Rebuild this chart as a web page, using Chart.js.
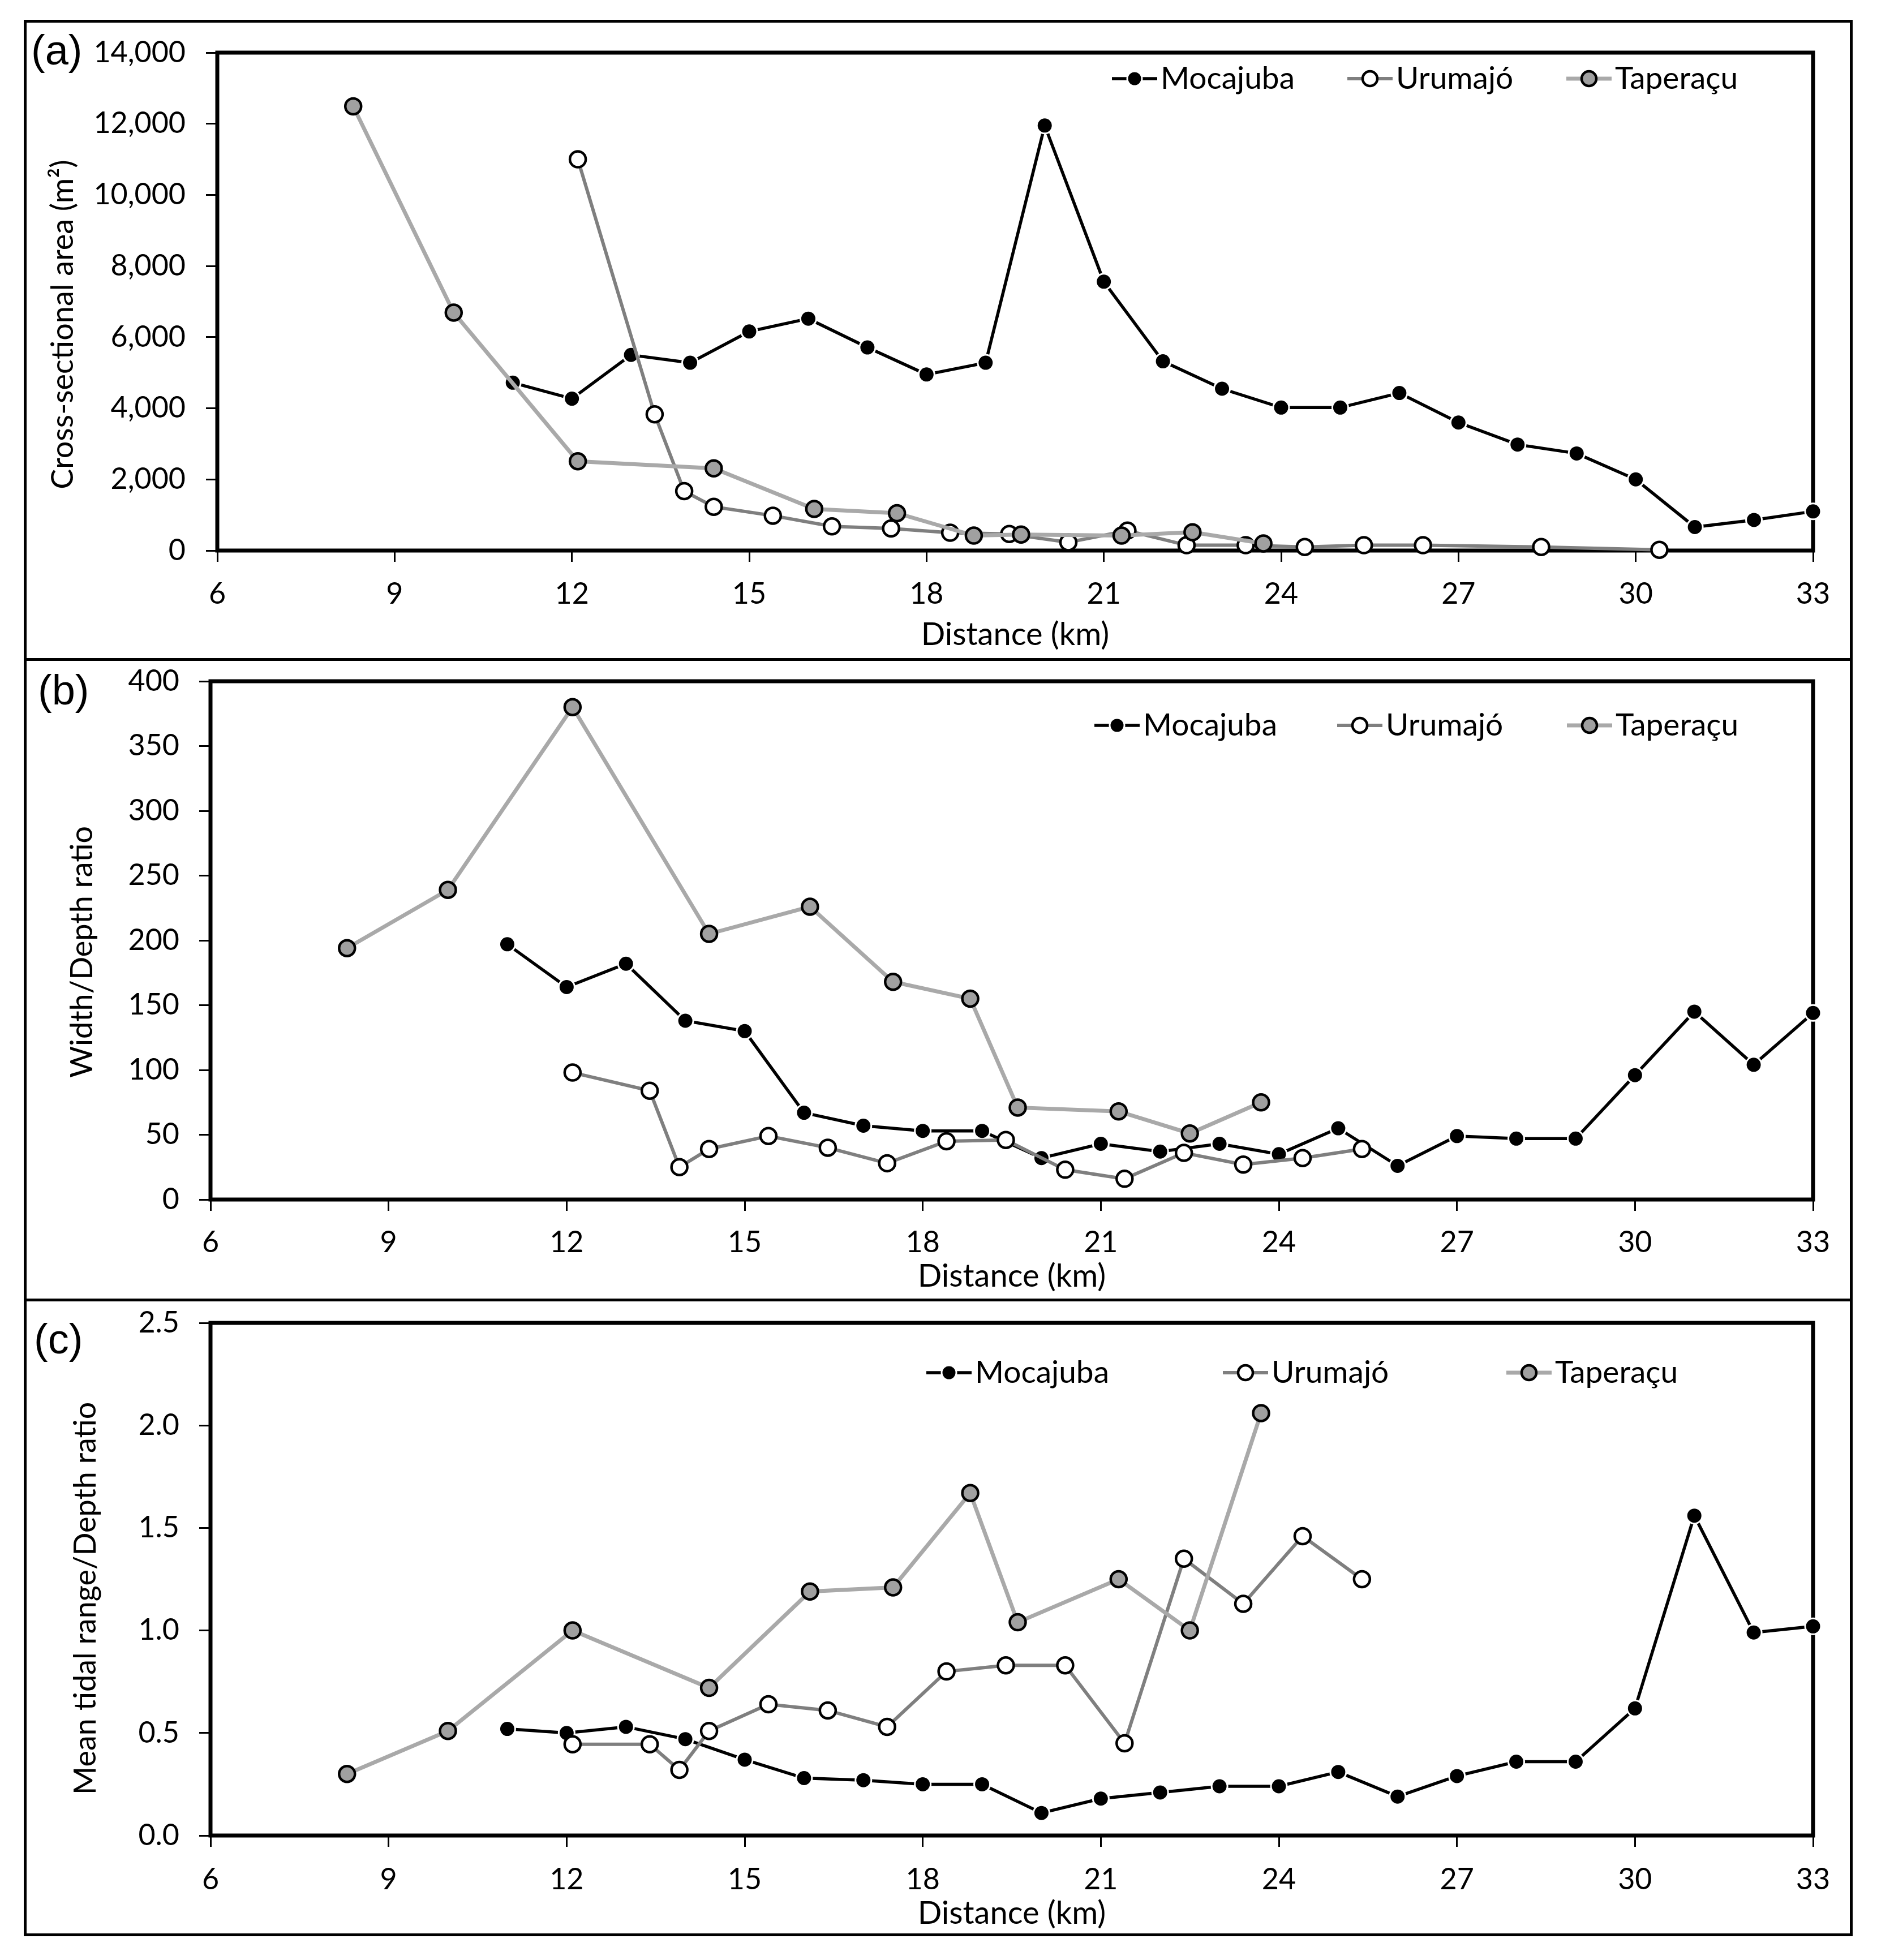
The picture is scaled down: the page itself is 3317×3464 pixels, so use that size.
<!DOCTYPE html>
<html>
<head>
<meta charset="utf-8">
<script src="https://cdn.jsdelivr.net/npm/chart.js@4.4.1/dist/chart.umd.min.js"></script>
<style>
html,body{margin:0;padding:0;background:#fff;}
#page{position:relative;width:3317px;height:3464px;overflow:hidden;background:#fff;}
canvas{position:absolute;left:0;}
.frame{position:absolute;left:42px;top:35px;width:3232px;height:3387px;border:5px solid #000;box-sizing:border-box;pointer-events:none;}
.hline{position:absolute;left:42px;width:3232px;height:5px;background:#000;pointer-events:none;}
.plabel{position:absolute;font-family:"Liberation Sans",Arial,sans-serif;font-size:74px;line-height:1;color:#000;white-space:nowrap;}
</style>
</head>
<body>
<div id="page">
  <canvas id="chartA" width="3317" height="1128" style="top:37px;width:3317px;height:1128px"></canvas>
  <canvas id="chartB" width="3317" height="1132" style="top:1165px;width:3317px;height:1132px"></canvas>
  <canvas id="chartC" width="3317" height="1123" style="top:2297px;width:3317px;height:1123px"></canvas>
  <div class="frame"></div>
  <div class="hline" style="top:1163px"></div>
  <div class="hline" style="top:2295px"></div>
  <div class="plabel" style="left:55px;top:52px">(a)</div>
  <div class="plabel" style="left:67px;top:1183px">(b)</div>
  <div class="plabel" style="left:60px;top:2330px">(c)</div>
</div>
<script>
// ---------------- DATA ----------------
const seriesNames = ['Mocajuba', 'Urumajó', 'Taperaçu'];

const distMoc = [11, 12, 13, 14, 15, 16, 17, 18, 19, 20, 21, 22, 23, 24, 25, 26, 27, 28, 29, 30, 31, 32, 33];
const distUru = [12.1, 13.4, 13.9, 14.4, 15.4, 16.4, 17.4, 18.4, 19.4, 20.4, 21.4, 22.4, 23.4, 24.4, 25.4, 26.4, 28.4, 30.4];
const distTap = [8.3, 10.0, 12.1, 14.4, 16.1, 17.5, 18.8, 19.6, 21.3, 22.5, 23.7];

// (a) Cross-sectional area (m2)
const areaMoc = [4720, 4270, 5500, 5280, 6160, 6520, 5710, 4950, 5280, 11950, 7560, 5320, 4550, 4020, 4020, 4430, 3600, 2980, 2730, 2000, 660, 860, 1100];
const areaUru = [11000, 3830, 1670, 1230, 980, 680, 620, 500, 465, 230, 560, 150, 150, 100, 150, 150, 100, 20];
const areaTap = [12490, 6690, 2510, 2310, 1170, 1050, 420, 450, 420, 515, 200];

// (b) Width/Depth ratio
const wdMoc = [197, 164, 182, 138, 130, 67, 57, 53, 53, 32, 43, 37, 43, 35, 55, 26, 49, 47, 47, 96, 145, 104, 144];
const wdUru = [98, 84, 25, 39, 49, 40, 28, 45, 46, 23, 16, 36, 27, 32, 39];
const wdTap = [194, 239, 380, 205, 226, 168, 155, 71, 68, 51, 75];

// (c) Mean tidal range/Depth ratio
const trMoc = [0.52, 0.50, 0.53, 0.47, 0.37, 0.28, 0.27, 0.25, 0.25, 0.11, 0.18, 0.21, 0.24, 0.24, 0.31, 0.19, 0.29, 0.36, 0.36, 0.62, 1.56, 0.99, 1.02];
const trUru = [0.445, 0.445, 0.32, 0.51, 0.64, 0.61, 0.53, 0.80, 0.83, 0.83, 0.45, 1.35, 1.13, 1.46, 1.25];
const trTap = [0.30, 0.51, 1.00, 0.72, 1.19, 1.21, 1.67, 1.04, 1.25, 1.00, 2.06];

// tick values
const xTickValues = [6, 9, 12, 15, 18, 21, 24, 27, 30, 33];
const yTicksA = [0, 2000, 4000, 6000, 8000, 10000, 12000, 14000];
const yTicksB = [0, 50, 100, 150, 200, 250, 300, 350, 400];
const yTicksC = [0, 0.5, 1.0, 1.5, 2.0, 2.5];

const xTitle = 'Distance (km)';
const yTitleA = 'Cross-sectional area (m²)';
const yTitleB = 'Width/Depth ratio';
const yTitleC = 'Mean tidal range/Depth ratio';

// ---------------- STYLE ----------------
const FONT = 'Lato, "Open Sans", "DejaVu Sans", sans-serif';
const seriesStyle = [
  {line: '#000000', lw: 5.5, fill: '#000000', border: '#ffffff', bw: 3, r: 14, order: 3},
  {line: '#7f7f7f', lw: 6,   fill: '#ffffff', border: '#000000', bw: 4.5, r: 14, order: 2},
  {line: '#a9a9a9', lw: 7,   fill: '#a0a0a0', border: '#000000', bw: 4.5, r: 14, order: 1}
];

const pair = (xs, ys) => ys.map((y, i) => ({x: xs[i], y: y}));

const plotBox = {
  id: 'plotBox',
  beforeDatasetsDraw(chart) {
    const {ctx, chartArea: a} = chart;
    ctx.save();
    ctx.strokeStyle = '#000';
    ctx.lineWidth = 7;
    ctx.strokeRect(a.left, a.top, a.right - a.left, a.bottom - a.top);
    ctx.restore();
  }
};

const insideLegend = {
  id: 'insideLegend',
  afterDraw(chart, args, opts) {
    const ctx = chart.ctx;
    ctx.save();
    chart.data.datasets.forEach((ds, i) => {
      const cx = opts.xs[i], cy = opts.y;
      ctx.strokeStyle = ds.borderColor;
      ctx.lineWidth = ds.borderWidth;
      ctx.beginPath();
      ctx.moveTo(cx - opts.half, cy);
      ctx.lineTo(cx + opts.half, cy);
      ctx.stroke();
      ctx.beginPath();
      ctx.arc(cx, cy, ds.pointRadius - 1, 0, Math.PI * 2);
      ctx.fillStyle = ds.pointBackgroundColor;
      ctx.fill();
      ctx.lineWidth = ds.pointBorderWidth;
      ctx.strokeStyle = ds.pointBorderColor;
      ctx.stroke();
      ctx.fillStyle = '#000';
      ctx.font = '55px ' + FONT;
      ctx.textBaseline = 'middle';
      ctx.textAlign = 'left';
      ctx.fillText(ds.label, cx + opts.gap, cy);
    });
    ctx.restore();
  }
};

function makePanel(id, seriesData, yTicks, yTitle, yFmt, lay) {
  const datasets = seriesData.map((d, i) => {
    const s = seriesStyle[i];
    return {
      label: seriesNames[i],
      data: d,
      borderColor: s.line,
      borderWidth: s.lw,
      pointBackgroundColor: s.fill,
      pointBorderColor: s.border,
      pointBorderWidth: s.bw,
      pointRadius: s.r,
      pointHoverRadius: s.r,
      tension: 0,
      fill: false,
      clip: false,
      order: s.order
    };
  });
  const tickGrid = {display: true, drawOnChartArea: false, drawTicks: true, tickLength: 20,
                    color: '#000', tickColor: '#000', lineWidth: 3, tickWidth: 3};
  return new Chart(document.getElementById(id), {
    type: 'line',
    data: {datasets},
    plugins: [plotBox, insideLegend],
    options: {
      responsive: false,
      devicePixelRatio: 1,
      animation: false,
      events: [],
      layout: {padding: {left: 0, top: lay.top, right: 113, bottom: 0}},
      plugins: {
        legend: {display: false},
        tooltip: {enabled: false},
        insideLegend: {xs: lay.legX, y: lay.legY, half: 40, gap: 46}
      },
      scales: {
        x: {
          type: 'linear',
          position: 'bottom',
          min: xTickValues[0],
          max: xTickValues[xTickValues.length - 1],
          afterBuildTicks: (sc) => { sc.ticks = xTickValues.map(v => ({value: v})); },
          ticks: {autoSkip: false, maxRotation: 0, color: '#000', padding: lay.xPad,
                  font: {family: FONT, size: 52}},
          grid: tickGrid,
          border: {display: false},
          title: {display: true, text: xTitle, color: '#000',
                  font: {family: FONT, size: 56}, padding: {top: 0, bottom: lay.xTitlePad}},
          afterFit: (sc) => { sc.height = lay.xH; sc.paddingLeft = 0; sc.paddingRight = 0; }
        },
        y: {
          type: 'linear',
          position: 'left',
          min: yTicks[0],
          max: yTicks[yTicks.length - 1],
          afterBuildTicks: (sc) => { sc.ticks = yTicks.map(v => ({value: v})); },
          ticks: {color: '#000', padding: lay.yPad, font: {family: FONT, size: 52},
                  callback: (v) => yFmt(v)},
          grid: tickGrid,
          border: {display: false},
          title: {display: true, text: yTitle + lay.ySpace, color: '#000',
                  font: {family: FONT, size: 54}, padding: {top: lay.yTitlePad, bottom: 0}},
          afterFit: (sc) => { sc.width = lay.yW; sc.paddingTop = 0; sc.paddingBottom = 0; }
        }
      }
    }
  });
}

const fmtThousands = (v) => Number(v).toLocaleString('en-US');
const fmtInt = (v) => String(v);
const fmtOne = (v) => Number(v).toFixed(1);

makePanel('chartA',
  [pair(distMoc, areaMoc), pair(distUru, areaUru), pair(distTap, areaTap)],
  yTicksA, yTitleA, fmtThousands,
  {top: 56, yW: 384, xH: 192, xPad: 26, xTitlePad: 9, yPad: 36, yTitlePad: 79,
   ySpace: '\u2003\u2003', legX: [2005, 2421, 2808], legY: 102});

makePanel('chartB',
  [pair(distMoc, wdMoc), pair(distUru, wdUru), pair(distTap, wdTap)],
  yTicksB, yTitleB, fmtInt,
  {top: 39, yW: 372, xH: 177, xPad: 25, xTitlePad: 7, yPad: 35, yTitlePad: 113,
   ySpace: '\u2003', legX: [1974, 2403, 2809], legY: 117});

makePanel('chartC',
  [pair(distMoc, trMoc), pair(distUru, trUru), pair(distTap, trTap)],
  yTicksC, yTitleC, fmtOne,
  {top: 41, yW: 372, xH: 176, xPad: 27, xTitlePad: 4, yPad: 35, yTitlePad: 119,
   ySpace: '\u2003\u2002', legX: [1677, 2201, 2702], legY: 129});
</script>
</body>
</html>
